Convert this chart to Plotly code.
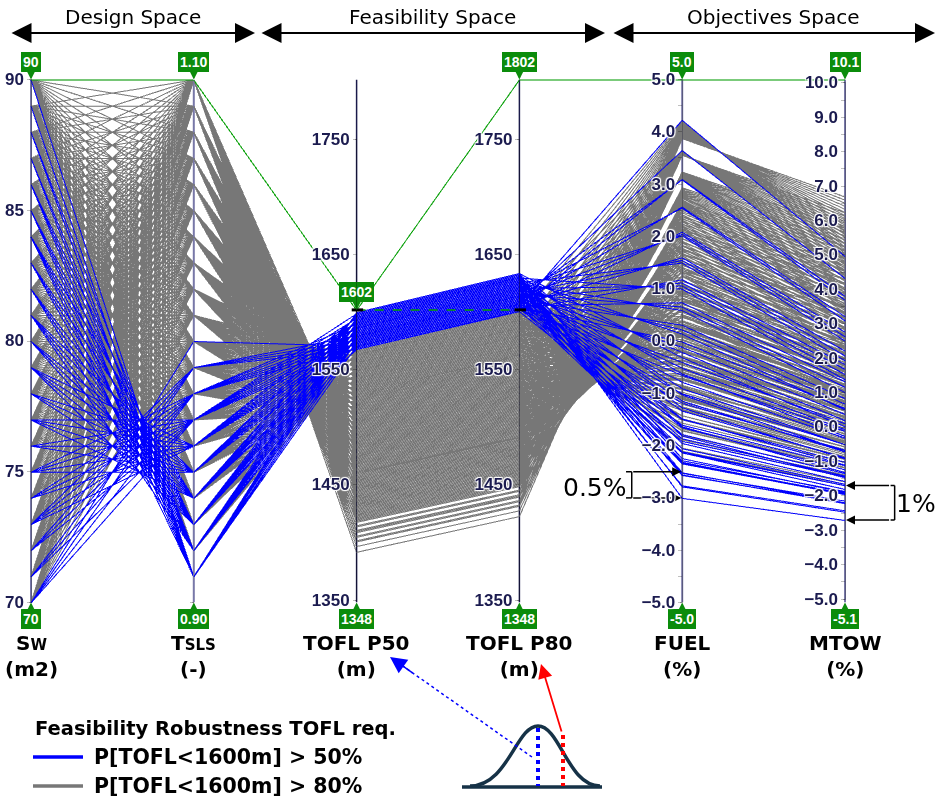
import plotly.graph_objects as go

# ---------------------------------------------------------------- data
SW_LEVELS = [70, 71, 72, 73, 74, 75, 76, 77, 78, 79, 80, 81, 82, 83, 84, 85, 86, 87, 88, 89, 90]
TSLS_LEVELS = [0.91, 0.92, 0.93, 0.94, 0.95, 0.96, 0.97, 0.98, 0.99, 1.00,
               1.01, 1.02, 1.03, 1.04, 1.05, 1.06, 1.07, 1.08, 1.09, 1.10]

# lowest thrust ratio meeting the median TOFL requirement, for each wing area
FIRST_TSLS = {70: 0.97, 71: 0.97, 72: 0.97, 73: 0.96, 74: 0.96, 75: 0.95, 76: 0.95,
              77: 0.94, 78: 0.94, 79: 0.93, 80: 0.93, 81: 0.92, 82: 0.92, 83: 0.92,
              84: 0.91, 85: 0.91, 86: 0.91, 87: 0.91, 88: 0.91, 89: 0.91, 90: 0.91}

# responses per wing area, from FIRST_TSLS upward to TSLS = 1.10
TOFL_P50 = {
    70: [1599, 1590, 1580, 1571, 1562, 1552, 1543, 1533, 1524, 1515, 1505, 1496, 1486, 1477],
    71: [1595, 1586, 1576, 1567, 1557, 1548, 1539, 1529, 1520, 1510, 1501, 1492, 1482, 1473],
    72: [1591, 1581, 1572, 1563, 1553, 1544, 1534, 1525, 1516, 1506, 1497, 1487, 1478, 1469],
    73: [1596, 1587, 1577, 1568, 1558, 1549, 1540, 1530, 1521, 1511, 1502, 1493, 1483, 1474, 1464],
    74: [1592, 1582, 1573, 1563, 1554, 1545, 1535, 1526, 1516, 1507, 1498, 1488, 1479, 1469, 1460],
    75: [1597, 1587, 1578, 1569, 1559, 1550, 1540, 1531, 1522, 1512, 1503, 1493, 1484, 1475, 1465, 1456],
    76: [1593, 1583, 1574, 1564, 1555, 1546, 1536, 1527, 1517, 1508, 1499, 1489, 1480, 1470, 1461, 1452],
    77: [1598, 1588, 1579, 1570, 1560, 1551, 1541, 1532, 1523, 1513, 1504, 1494, 1485, 1476, 1466, 1457, 1447],
    78: [1594, 1584, 1575, 1565, 1556, 1547, 1537, 1528, 1518, 1509, 1500, 1490, 1481, 1471, 1462, 1453, 1443],
    79: [1599, 1589, 1580, 1571, 1561, 1552, 1542, 1533, 1524, 1514, 1505, 1495, 1486, 1477, 1467, 1458, 1448, 1439],
    80: [1594, 1585, 1576, 1566, 1557, 1548, 1538, 1529, 1519, 1510, 1500, 1491, 1482, 1472, 1463, 1454, 1444, 1435],
    81: [1600, 1590, 1581, 1571, 1562, 1553, 1543, 1534, 1524, 1515, 1506, 1496, 1487, 1477, 1468, 1459, 1449, 1440, 1430],
    82: [1595, 1586, 1577, 1567, 1558, 1548, 1539, 1530, 1520, 1511, 1501, 1492, 1483, 1473, 1464, 1454, 1445, 1436, 1426],
    83: [1591, 1582, 1572, 1563, 1554, 1544, 1535, 1525, 1516, 1507, 1497, 1488, 1478, 1469, 1460, 1450, 1441, 1431, 1422],
    84: [1596, 1587, 1578, 1568, 1559, 1549, 1540, 1531, 1521, 1512, 1502, 1493, 1484, 1474, 1465, 1455, 1446, 1437, 1427, 1418],
    85: [1592, 1583, 1573, 1564, 1555, 1545, 1536, 1526, 1517, 1508, 1498, 1489, 1479, 1470, 1461, 1451, 1442, 1432, 1423, 1414],
    86: [1588, 1579, 1569, 1560, 1550, 1541, 1532, 1522, 1513, 1503, 1494, 1485, 1475, 1466, 1456, 1447, 1438, 1428, 1419, 1409],
    87: [1584, 1574, 1565, 1555, 1546, 1537, 1527, 1518, 1508, 1499, 1490, 1480, 1471, 1461, 1452, 1443, 1433, 1424, 1414, 1405],
    88: [1579, 1570, 1561, 1551, 1542, 1532, 1523, 1514, 1504, 1495, 1485, 1476, 1467, 1457, 1448, 1438, 1429, 1420, 1410, 1401],
    89: [1575, 1566, 1556, 1547, 1538, 1528, 1519, 1509, 1500, 1491, 1481, 1472, 1462, 1453, 1444, 1434, 1425, 1415, 1406, 1397],
    90: [1571, 1562, 1552, 1543, 1533, 1524, 1515, 1505, 1496, 1486, 1477, 1468, 1458, 1449, 1439, 1430, 1421, 1411, 1402, 1392],
}
TOFL_P80 = {
    70: [1633, 1624, 1614, 1605, 1595, 1585, 1576, 1566, 1556, 1547, 1537, 1528, 1518, 1509],
    71: [1629, 1620, 1610, 1600, 1590, 1581, 1572, 1561, 1552, 1542, 1533, 1524, 1514, 1505],
    72: [1625, 1615, 1606, 1596, 1586, 1577, 1567, 1557, 1548, 1538, 1529, 1519, 1510, 1501],
    73: [1630, 1621, 1611, 1601, 1591, 1582, 1573, 1563, 1553, 1543, 1534, 1525, 1515, 1506, 1496],
    74: [1626, 1616, 1607, 1596, 1587, 1578, 1568, 1558, 1548, 1539, 1530, 1520, 1511, 1501, 1492],
    75: [1631, 1621, 1612, 1603, 1592, 1583, 1573, 1564, 1554, 1544, 1535, 1525, 1516, 1507, 1497, 1487],
    76: [1627, 1617, 1608, 1597, 1588, 1579, 1569, 1559, 1549, 1540, 1531, 1521, 1512, 1502, 1493, 1483],
    77: [1632, 1622, 1613, 1604, 1593, 1584, 1574, 1565, 1555, 1545, 1536, 1526, 1517, 1508, 1498, 1488, 1478],
    78: [1628, 1618, 1609, 1598, 1589, 1580, 1570, 1560, 1550, 1541, 1532, 1522, 1513, 1503, 1494, 1484, 1474],
    79: [1633, 1623, 1614, 1605, 1594, 1585, 1575, 1566, 1556, 1546, 1537, 1527, 1518, 1509, 1499, 1489, 1479, 1470],
    80: [1628, 1619, 1610, 1599, 1590, 1581, 1571, 1561, 1551, 1542, 1532, 1523, 1514, 1504, 1495, 1485, 1475, 1466],
    81: [1634, 1624, 1615, 1605, 1595, 1586, 1576, 1567, 1556, 1547, 1538, 1528, 1519, 1509, 1500, 1490, 1480, 1471, 1461],
    82: [1629, 1620, 1611, 1600, 1591, 1581, 1572, 1562, 1552, 1543, 1533, 1524, 1515, 1505, 1496, 1485, 1476, 1467, 1457],
    83: [1625, 1616, 1606, 1596, 1587, 1577, 1568, 1557, 1548, 1539, 1529, 1520, 1510, 1501, 1491, 1481, 1472, 1462, 1453],
    84: [1630, 1621, 1612, 1602, 1592, 1582, 1573, 1564, 1553, 1544, 1534, 1525, 1516, 1506, 1497, 1486, 1477, 1468, 1458, 1449],
    85: [1626, 1617, 1607, 1597, 1588, 1578, 1569, 1558, 1549, 1540, 1530, 1521, 1511, 1502, 1492, 1482, 1473, 1463, 1454, 1445],
    86: [1622, 1613, 1603, 1593, 1583, 1574, 1565, 1554, 1545, 1535, 1526, 1517, 1507, 1498, 1487, 1478, 1469, 1459, 1450, 1440],
    87: [1618, 1608, 1598, 1588, 1579, 1570, 1559, 1550, 1540, 1531, 1522, 1512, 1503, 1493, 1483, 1474, 1464, 1455, 1445, 1436],
    88: [1613, 1604, 1594, 1584, 1575, 1565, 1555, 1546, 1536, 1527, 1517, 1508, 1499, 1488, 1479, 1469, 1460, 1451, 1441, 1432],
    89: [1609, 1599, 1589, 1580, 1571, 1560, 1551, 1541, 1532, 1523, 1513, 1504, 1494, 1484, 1475, 1465, 1456, 1446, 1437, 1428],
    90: [1605, 1595, 1585, 1576, 1566, 1556, 1547, 1537, 1528, 1518, 1509, 1500, 1489, 1480, 1470, 1461, 1452, 1442, 1433, 1423],
}
FUEL = {
    70: [-3.00, -2.76, -2.52, -2.28, -2.04, -1.80, -1.56, -1.32, -1.08, -0.84, -0.60, -0.36, -0.12, 0.12],
    71: [-2.78, -2.56, -2.33, -2.10, -1.88, -1.65, -1.42, -1.20, -0.97, -0.74, -0.51, -0.29, -0.06, 0.17],
    72: [-2.55, -2.34, -2.13, -1.91, -1.70, -1.48, -1.27, -1.05, -0.84, -0.63, -0.41, -0.20, 0.02, 0.23],
    73: [-2.51, -2.31, -2.11, -1.91, -1.71, -1.50, -1.30, -1.10, -0.90, -0.70, -0.50, -0.30, -0.09, 0.11, 0.31],
    74: [-2.24, -2.05, -1.86, -1.67, -1.48, -1.30, -1.11, -0.92, -0.73, -0.54, -0.35, -0.17, 0.02, 0.21, 0.40],
    75: [-2.13, -1.95, -1.78, -1.60, -1.42, -1.25, -1.07, -0.90, -0.72, -0.55, -0.37, -0.20, -0.02, 0.16, 0.33, 0.51],
    76: [-1.81, -1.65, -1.49, -1.32, -1.16, -1.00, -0.84, -0.67, -0.51, -0.35, -0.19, -0.02, 0.14, 0.30, 0.47, 0.63],
    77: [-1.63, -1.48, -1.33, -1.18, -1.03, -0.88, -0.73, -0.58, -0.43, -0.28, -0.13, 0.02, 0.17, 0.32, 0.47, 0.62, 0.76],
    78: [-1.27, -1.14, -1.00, -0.86, -0.73, -0.59, -0.45, -0.32, -0.18, -0.04, 0.10, 0.23, 0.37, 0.51, 0.64, 0.78, 0.92],
    79: [-1.02, -0.90, -0.78, -0.65, -0.53, -0.41, -0.28, -0.16, -0.03, 0.09, 0.21, 0.34, 0.46, 0.59, 0.71, 0.83, 0.96, 1.08],
    80: [-0.62, -0.51, -0.40, -0.29, -0.18, -0.07, 0.04, 0.15, 0.26, 0.37, 0.49, 0.60, 0.71, 0.82, 0.93, 1.04, 1.15, 1.26],
    81: [-0.31, -0.21, -0.11, -0.01, 0.08, 0.18, 0.28, 0.38, 0.48, 0.58, 0.67, 0.77, 0.87, 0.97, 1.07, 1.16, 1.26, 1.36, 1.46],
    82: [0.14, 0.22, 0.31, 0.39, 0.48, 0.56, 0.65, 0.73, 0.82, 0.90, 0.99, 1.07, 1.16, 1.24, 1.33, 1.41, 1.50, 1.58, 1.67],
    83: [0.59, 0.66, 0.74, 0.81, 0.88, 0.95, 1.03, 1.10, 1.17, 1.24, 1.32, 1.39, 1.46, 1.53, 1.60, 1.68, 1.75, 1.82, 1.89],
    84: [1.00, 1.06, 1.12, 1.18, 1.24, 1.30, 1.36, 1.42, 1.48, 1.54, 1.60, 1.66, 1.72, 1.78, 1.84, 1.90, 1.96, 2.01, 2.07, 2.13],
    85: [1.50, 1.55, 1.60, 1.64, 1.69, 1.74, 1.78, 1.83, 1.88, 1.92, 1.97, 2.02, 2.06, 2.11, 2.16, 2.20, 2.25, 2.30, 2.34, 2.39],
    86: [2.02, 2.05, 2.09, 2.12, 2.15, 2.19, 2.22, 2.25, 2.29, 2.32, 2.36, 2.39, 2.42, 2.46, 2.49, 2.52, 2.56, 2.59, 2.62, 2.66],
    87: [2.55, 2.57, 2.59, 2.61, 2.63, 2.65, 2.67, 2.69, 2.71, 2.74, 2.76, 2.78, 2.80, 2.82, 2.84, 2.86, 2.88, 2.90, 2.92, 2.94],
    88: [3.09, 3.10, 3.11, 3.12, 3.12, 3.13, 3.14, 3.15, 3.16, 3.16, 3.17, 3.18, 3.19, 3.19, 3.20, 3.21, 3.22, 3.23, 3.23, 3.24],
    89: [3.65, 3.65, 3.64, 3.64, 3.63, 3.63, 3.62, 3.62, 3.61, 3.61, 3.60, 3.60, 3.59, 3.59, 3.58, 3.58, 3.57, 3.57, 3.56, 3.56],
    90: [4.23, 4.21, 4.19, 4.17, 4.15, 4.14, 4.12, 4.10, 4.08, 4.06, 4.05, 4.03, 4.01, 3.99, 3.97, 3.96, 3.94, 3.92, 3.90, 3.88],
}
MTOW = {
    70: [-2.70, -2.42, -2.14, -1.86, -1.58, -1.30, -1.02, -0.74, -0.46, -0.18, 0.10, 0.38, 0.66, 0.94],
    71: [-2.46, -2.19, -1.92, -1.65, -1.38, -1.11, -0.84, -0.57, -0.30, -0.03, 0.24, 0.51, 0.78, 1.05],
    72: [-2.21, -1.95, -1.69, -1.43, -1.17, -0.91, -0.64, -0.38, -0.12, 0.14, 0.40, 0.66, 0.92, 1.18],
    73: [-2.19, -1.94, -1.69, -1.44, -1.18, -0.93, -0.68, -0.43, -0.18, 0.07, 0.33, 0.58, 0.83, 1.08, 1.33],
    74: [-1.89, -1.65, -1.41, -1.16, -0.92, -0.68, -0.44, -0.19, 0.05, 0.29, 0.53, 0.77, 1.02, 1.26, 1.50],
    75: [-1.80, -1.57, -1.34, -1.11, -0.87, -0.64, -0.41, -0.18, 0.06, 0.29, 0.52, 0.76, 0.99, 1.22, 1.45, 1.69],
    76: [-1.46, -1.23, -1.01, -0.79, -0.56, -0.34, -0.12, 0.11, 0.33, 0.55, 0.78, 1.00, 1.22, 1.45, 1.67, 1.89],
    77: [-1.31, -1.09, -0.88, -0.66, -0.45, -0.24, -0.02, 0.19, 0.40, 0.62, 0.83, 1.05, 1.26, 1.47, 1.69, 1.90, 2.12],
    78: [-0.91, -0.71, -0.50, -0.30, -0.10, 0.11, 0.31, 0.52, 0.72, 0.93, 1.13, 1.34, 1.54, 1.74, 1.95, 2.15, 2.36],
    79: [-0.70, -0.50, -0.31, -0.11, 0.08, 0.28, 0.47, 0.67, 0.86, 1.06, 1.25, 1.45, 1.64, 1.84, 2.03, 2.23, 2.42, 2.62],
    80: [-0.26, -0.07, 0.11, 0.30, 0.48, 0.67, 0.86, 1.04, 1.23, 1.41, 1.60, 1.78, 1.97, 2.15, 2.34, 2.53, 2.71, 2.90],
    81: [0.02, 0.20, 0.38, 0.55, 0.73, 0.90, 1.08, 1.26, 1.43, 1.61, 1.79, 1.96, 2.14, 2.31, 2.49, 2.67, 2.84, 3.02, 3.19],
    82: [0.51, 0.68, 0.84, 1.01, 1.18, 1.34, 1.51, 1.68, 1.84, 2.01, 2.18, 2.34, 2.51, 2.68, 2.84, 3.01, 3.18, 3.34, 3.51],
    83: [1.02, 1.17, 1.33, 1.49, 1.64, 1.80, 1.96, 2.12, 2.27, 2.43, 2.59, 2.74, 2.90, 3.06, 3.22, 3.37, 3.53, 3.69, 3.84],
    84: [1.39, 1.54, 1.69, 1.83, 1.98, 2.13, 2.28, 2.42, 2.57, 2.72, 2.87, 3.02, 3.16, 3.31, 3.46, 3.61, 3.75, 3.90, 4.05, 4.20],
    85: [1.94, 2.08, 2.22, 2.36, 2.49, 2.63, 2.77, 2.91, 3.05, 3.19, 3.32, 3.46, 3.60, 3.74, 3.88, 4.01, 4.15, 4.29, 4.43, 4.57],
    86: [2.51, 2.64, 2.77, 2.90, 3.03, 3.15, 3.28, 3.41, 3.54, 3.67, 3.80, 3.93, 4.06, 4.19, 4.31, 4.44, 4.57, 4.70, 4.83, 4.96],
    87: [3.10, 3.22, 3.34, 3.46, 3.58, 3.70, 3.81, 3.93, 4.05, 4.17, 4.29, 4.41, 4.53, 4.65, 4.77, 4.89, 5.01, 5.13, 5.25, 5.37],
    88: [3.70, 3.81, 3.92, 4.03, 4.14, 4.25, 4.36, 4.47, 4.58, 4.69, 4.80, 4.91, 5.02, 5.13, 5.24, 5.35, 5.46, 5.57, 5.68, 5.79],
    89: [4.33, 4.43, 4.53, 4.63, 4.73, 4.83, 4.93, 5.03, 5.13, 5.23, 5.33, 5.43, 5.54, 5.64, 5.74, 5.84, 5.94, 6.04, 6.14, 6.24],
    90: [4.97, 5.06, 5.16, 5.25, 5.34, 5.43, 5.52, 5.61, 5.70, 5.79, 5.88, 5.97, 6.07, 6.16, 6.25, 6.34, 6.43, 6.52, 6.61, 6.70],
}

TOFL_REQ = 1600          # m, take-off field length requirement
P50_FILTER = 1602        # upper brush on TOFL P50

# axis ranges (min, max)
SW_RANGE = (70, 90)
TSLS_RANGE = (0.90, 1.10)
P50_RANGE = (1348, 1802)
P80_RANGE = (1348, 1802)
FUEL_RANGE = (-5.0, 5.0)
MTOW_RANGE = (-5.1, 10.1)

# axis titles
AXIS_TITLES = ["S<span style='font-size:15px'>W</span><br>(m2)",
               "T<span style='font-size:15px'>SLS</span><br>(-)",
               "TOFL P50<br>(m)", "TOFL P80<br>(m)", "FUEL<br>(%)", "MTOW<br>(%)"]

# tick labels
SW_TICKS = [70, 75, 80, 85, 90]
TOFL_TICKS = [1350, 1450, 1550, 1650, 1750]
FUEL_MAJOR = [-5.0, -4.0, -3.0, -2.0, -1.0, 0.0, 1.0, 2.0, 3.0, 4.0, 5.0]
FUEL_MINOR = [-4.5, -3.5, -2.5, -1.5, -0.5, 0.5, 1.5, 2.5, 3.5, 4.5]
MTOW_MAJOR = [-5.0, -4.0, -3.0, -2.0, -1.0, 0.0, 1.0, 2.0, 3.0, 4.0, 5.0, 6.0, 7.0, 8.0, 9.0, 10.0]
MTOW_MINOR = [-4.5, -3.5, -2.5, -1.5, -0.5, 0.5, 1.5, 2.5, 3.5, 4.5, 5.5, 6.5, 7.5, 8.5, 9.5]

# markers of the 0.5 % fuel and 1 % MTOW gaps
FUEL_GAP = (-2.5, -3.0)
MTOW_GAP = (-1.7, -2.7)

# ---------------------------------------------------------------- styling
W, H = 940, 801
GREY = "#777777"
BLUE = "#0000ff"
GREEN_LINE = "#00a000"
GREEN_BOX = "#0b8c0b"
NAVY = "#1b1b4f"
AX_LEFT, AX_RIGHT = 31.0, 845.0      # pixel x of first / last axis
AX_TOP, AX_BOTTOM = 79.5, 602.5      # pixel y of axis max / min
PC_PAD = 2.0                         # inner vertical padding of parcoords axes
STEP = (AX_RIGHT - AX_LEFT) / 5.0
X_LO, X_HI = -0.15, 5.4              # overlay x range in axis-index units


def px(x):
    return x / W


def py(y):
    return 1.0 - y / H


def fmt(v, nd=1):
    return f"{v:.{nd}f}".replace("-", "\u2212")


def ticks(major, minor):
    # minor ticks get distinct blank labels so that every tick keeps its own text
    pairs = [(v, fmt(v)) for v in major] + [(v, " " * (k + 1)) for k, v in enumerate(minor)]
    pairs.sort(key=lambda p: p[0])
    return [p[0] for p in pairs], [p[1] for p in pairs]


# ---------------------------------------------------------------- rows
designs = []
for sw in SW_LEVELS:
    k0 = TSLS_LEVELS.index(FIRST_TSLS[sw])
    for tsls, p50, p80, fuel, mtow in zip(TSLS_LEVELS[k0:], TOFL_P50[sw], TOFL_P80[sw],
                                         FUEL[sw], MTOW[sw]):
        cls = 1 if p80 > TOFL_REQ else 0   # 1: only P50 feasible, 0: P80 feasible
        designs.append((cls, sw, tsls, p50, p80, fuel, mtow))

designs.sort(key=lambda r: r[0])          # robust designs first, blue drawn on top
# limit line through the brush markers
designs.append((2, SW_RANGE[1], TSLS_RANGE[1], P50_FILTER, P80_RANGE[1], FUEL_RANGE[1], MTOW_RANGE[1]))

cls_v, sw_v, tsls_v, p50_v, p80_v, fuel_v, mtow_v = [list(c) for c in zip(*designs)]

fuel_tv, fuel_tt = ticks(FUEL_MAJOR, FUEL_MINOR)
mtow_tv, mtow_tt = ticks(MTOW_MAJOR, MTOW_MINOR)

dims = [
    dict(label="", values=sw_v, range=list(SW_RANGE),
         tickvals=SW_TICKS, ticktext=[str(v) for v in SW_TICKS]),
    dict(label="", values=tsls_v, range=list(TSLS_RANGE),
         tickvals=[TSLS_RANGE[0]], ticktext=[" "]),
    dict(label="", values=p50_v, range=list(P50_RANGE),
         tickvals=TOFL_TICKS, ticktext=[str(v) for v in TOFL_TICKS]),
    dict(label="", values=p80_v, range=list(P80_RANGE),
         tickvals=TOFL_TICKS, ticktext=[str(v) for v in TOFL_TICKS]),
    dict(label="", values=fuel_v, range=list(FUEL_RANGE), tickvals=fuel_tv, ticktext=fuel_tt),
    dict(label="", values=mtow_v, range=list(MTOW_RANGE), tickvals=mtow_tv, ticktext=mtow_tt),
]

pc_domain_y = [py(AX_BOTTOM + PC_PAD), py(AX_TOP - PC_PAD)]
ov_domain_y = [py(AX_BOTTOM), py(AX_TOP)]
ov_domain_x = [px(AX_LEFT + X_LO * STEP), px(AX_LEFT + X_HI * STEP)]

fig = go.Figure()
fig.add_trace(go.Parcoords(
    domain=dict(x=[px(AX_LEFT), px(AX_RIGHT)], y=pc_domain_y),
    line=dict(color=cls_v, colorscale=[[0, GREY], [0.5, BLUE], [1, GREEN_LINE]], cmin=0, cmax=2),
    dimensions=dims,
    labelside="bottom",
    labelfont=dict(family="DejaVu Sans", size=2, color="rgba(0,0,0,0)"),
    tickfont=dict(family="Liberation Sans", size=17, color=NAVY, weight="bold"),
    rangefont=dict(size=1, color="rgba(0,0,0,0)"),
))

# one overlay y axis per dimension, sharing the parcoords geometry
ranges = [SW_RANGE, TSLS_RANGE, P50_RANGE, P80_RANGE, FUEL_RANGE, MTOW_RANGE]
axis_colors = ["#7878a8", "#7878a8", "#1a1a4a", "#1a1a4a", "#7878a8", "#7878a8"]
axis_widths = [2, 2, 1.5, 1.5, 2, 2]
yrefs = ["y", "y2", "y3", "y4", "y5", "y6"]
for i, (rng, col, wid) in enumerate(zip(ranges, axis_colors, axis_widths)):
    fig.add_trace(go.Scatter(x=[i, i], y=list(rng), mode="lines", yaxis=yrefs[i],
                             line=dict(color=col, width=wid), hoverinfo="skip", showlegend=False))

layout_axes = dict(xaxis=dict(domain=ov_domain_x, range=[X_LO, X_HI], visible=False, fixedrange=True))
for i, rng in enumerate(ranges):
    key = "yaxis" if i == 0 else f"yaxis{i + 1}"
    ax = dict(domain=ov_domain_y, range=list(rng), visible=False, fixedrange=True)
    if i > 0:
        ax["overlaying"] = "y"
    layout_axes[key] = ax

annotations = []
shapes = []

# axis titles under each axis
for i, title in enumerate(AXIS_TITLES):
    annotations.append(dict(x=i, y=py(656), xref="x", yref="paper", text=f"<b>{title}</b>",
                            showarrow=False, xanchor="center", yanchor="middle",
                            font=dict(family="DejaVu Sans", size=20, color="black")))

# brush / range boxes
top_labels = ["90", "1.10", None, "1802", "5.0", "10.1"]
bottom_labels = ["70", "0.90", "1348", "1348", "-5.0", "-5.1"]


def range_box(i, yref, value, text, dy):
    return dict(x=i, y=value, xref="x", yref=yref, text=f"<b>{text}</b>", showarrow=True,
                ax=0, ay=dy, arrowhead=2, arrowsize=1, arrowwidth=1.6, arrowcolor=GREEN_BOX,
                standoff=0, bgcolor=GREEN_BOX, borderpad=2, borderwidth=0,
                font=dict(family="Liberation Sans", size=14, color="white"))


for i, (rng, yr) in enumerate(zip(ranges, yrefs)):
    if top_labels[i] is not None:
        annotations.append(range_box(i, yr, rng[1], top_labels[i], -18))
    annotations.append(range_box(i, yr, rng[0], bottom_labels[i], 16))
annotations.append(range_box(2, "y3", P50_FILTER, str(P50_FILTER), -18))

# dashed brush link between the TOFL axes
shapes.append(dict(type="line", xref="x", yref="y3", x0=2, x1=3, y0=P50_FILTER, y1=P50_FILTER,
                   line=dict(color=GREEN_LINE, width=1.5, dash="dash"), layer="above"))
for xc in (2, 3):
    shapes.append(dict(type="line", xref="x", yref="y3", x0=xc - 0.03, x1=xc + 0.04,
                       y0=P50_FILTER, y1=P50_FILTER, line=dict(color="black", width=3), layer="above"))

# 0.5 % fuel gap
FUEL_TAIL = 3.69
for v in FUEL_GAP:
    annotations.append(dict(x=4, y=v, xref="x", yref="y5", ax=FUEL_TAIL, ay=v, axref="x", ayref="y5",
                            text="", showarrow=True, arrowhead=2, arrowsize=1.2, arrowwidth=1.5,
                            arrowcolor="black", standoff=1))
shapes.append(dict(type="line", xref="x", yref="y5", x0=FUEL_TAIL, x1=FUEL_TAIL,
                   y0=FUEL_GAP[0], y1=FUEL_GAP[1], line=dict(color="black", width=1.5)))
for v in FUEL_GAP:
    shapes.append(dict(type="line", xref="x", yref="y5", x0=FUEL_TAIL - 0.035, x1=FUEL_TAIL,
                       y0=v, y1=v, line=dict(color="black", width=1.5)))
annotations.append(dict(x=px(595), y=py(487), xref="paper", yref="paper", text="0.5%",
                        showarrow=False, xanchor="center", yanchor="middle",
                        font=dict(family="DejaVu Sans", size=25, color="black")))

# 1 % MTOW gap
MTOW_TAIL = 5.28
for v in MTOW_GAP:
    annotations.append(dict(x=5, y=v, xref="x", yref="y6", ax=MTOW_TAIL, ay=v, axref="x", ayref="y6",
                            text="", showarrow=True, arrowhead=2, arrowsize=1.2, arrowwidth=1.5,
                            arrowcolor="black", standoff=1))
shapes.append(dict(type="line", xref="x", yref="y6", x0=MTOW_TAIL + 0.025, x1=MTOW_TAIL + 0.025,
                   y0=MTOW_GAP[0], y1=MTOW_GAP[1], line=dict(color="black", width=1.5)))
for v in MTOW_GAP:
    shapes.append(dict(type="line", xref="x", yref="y6", x0=MTOW_TAIL, x1=MTOW_TAIL + 0.025,
                       y0=v, y1=v, line=dict(color="black", width=1.5)))
annotations.append(dict(x=px(916), y=py(503), xref="paper", yref="paper", text="1%",
                        showarrow=False, xanchor="center", yanchor="middle",
                        font=dict(family="DejaVu Sans", size=25, color="black")))

# section headers with double arrows
sections = [("Design Space", 10, 255), ("Feasibility Space", 260, 605), ("Objectives Space", 612, 935)]
for name, x0, x1 in sections:
    annotations.append(dict(x=px((x0 + x1) / 2), y=py(17), xref="paper", yref="paper", text=name,
                            showarrow=False, xanchor="center", yanchor="middle",
                            font=dict(family="DejaVu Sans", size=20, color="black")))
    annotations.append(dict(x=px(x1), y=py(33), ax=-(x1 - x0), ay=0, xref="paper", yref="paper",
                            text="", showarrow=True, arrowhead=2,
                            arrowside="end+start", arrowsize=2.0, arrowwidth=2, arrowcolor="black",
                            standoff=0, startstandoff=0))

# legend
annotations.append(dict(x=px(33), y=py(728), xref="paper", yref="paper", xanchor="left", yanchor="middle",
                        text="<b>Feasibility Robustness TOFL req.</b>", showarrow=False,
                        font=dict(family="DejaVu Sans", size=19.5, color="black")))
for label, col, yy in [("P[TOFL&lt;1600m] &gt; 50%", BLUE, 757), ("P[TOFL&lt;1600m] &gt; 80%", GREY, 786)]:
    shapes.append(dict(type="line", xref="paper", yref="paper", x0=px(33), x1=px(83),
                       y0=py(yy), y1=py(yy), line=dict(color=col, width=3.5)))
    annotations.append(dict(x=px(92), y=py(yy), xref="paper", yref="paper", xanchor="left", yanchor="middle",
                            text=f"<b>{label}</b>", showarrow=False,
                            font=dict(family="DejaVu Sans", size=20.5, color="black")))

# probability density sketch with P50 / P80 markers
BELL_COLOR = "#163247"
bell = [(470, 786), (508, 786), (516, 726), (538, 726), (560, 726), (568, 786), (600, 786)]
path = "M {} {} C {} {}, {} {}, {} {} C {} {}, {} {}, {} {}".format(
    *[c for p in bell for c in (px(p[0]), py(p[1]))])
shapes.append(dict(type="path", xref="paper", yref="paper", path=path,
                   line=dict(color=BELL_COLOR, width=3.5)))
shapes.append(dict(type="line", xref="paper", yref="paper", x0=px(462), x1=px(602), y0=py(787), y1=py(787),
                   line=dict(color=BELL_COLOR, width=3.5)))
shapes.append(dict(type="line", xref="paper", yref="paper", x0=px(538), x1=px(538), y0=py(728), y1=py(786),
                   line=dict(color=BLUE, width=4, dash="dot")))
shapes.append(dict(type="line", xref="paper", yref="paper", x0=px(563), x1=px(563), y0=py(735), y1=py(786),
                   line=dict(color="red", width=4, dash="dot")))
# pointer from the median line to the TOFL P50 axis
shapes.append(dict(type="line", xref="paper", yref="paper", x0=px(532), x1=px(400), y0=py(757), y1=py(664),
                   line=dict(color=BLUE, width=1.5, dash="dot")))
annotations.append(dict(x=px(390), y=py(657), xref="paper", yref="paper", ax=24, ay=17, text="",
                        showarrow=True, arrowhead=2, arrowsize=2.2, arrowwidth=1.5, arrowcolor=BLUE,
                        standoff=0))
# pointer from the 80 % line to the TOFL P80 axis
annotations.append(dict(x=px(541), y=py(664), xref="paper", yref="paper", ax=21, ay=69, text="",
                        showarrow=True, arrowhead=2, arrowsize=1.6, arrowwidth=1.8, arrowcolor="red",
                        standoff=0))

fig.update_layout(
    width=W, height=H,
    margin=dict(l=0, r=0, t=0, b=0),
    paper_bgcolor="white",
    plot_bgcolor="rgba(0,0,0,0)",
    showlegend=False,
    annotations=annotations,
    shapes=shapes,
    **layout_axes,
)

fig.write_html("out.html", config={"plotGlPixelRatio": 1})
